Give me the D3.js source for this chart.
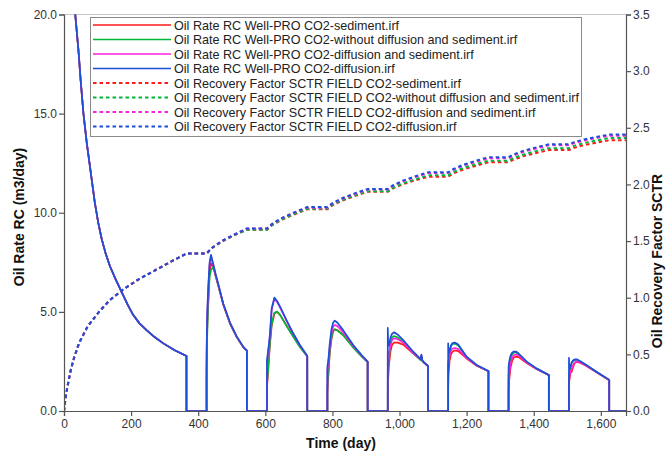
<!DOCTYPE html>
<html>
<head>
<meta charset="utf-8">
<script src="https://cdn.jsdelivr.net/npm/d3@7"></script>
<style>
  html, body { margin: 0; padding: 0; background: #fff; }
  svg { display: block; font-family: "Liberation Sans", Arial, sans-serif; }
</style>
</head>
<body>
<svg id="chart" width="670" height="457"></svg>
<script>
// ---- Oil rate (m3/day), sampled by day ----
const rateDays = [
  0, 5, 10, 15, 20, 26, 33, 43, 50, 58, 68, 76, 84, 92, 102, 112, 124, 137, 155, 172, 190, 206, 225, 246, 270, 296, 330, 365,
  365, 425,
  425, 427, 430, 434, 438, 445, 452, 460, 475, 495, 515, 535, 545,
  545, 605,
  605, 608, 611, 614, 619, 627, 635, 644, 663, 683, 703, 725,
  725, 785,
  785, 788, 792, 797, 802, 807, 815, 832, 862, 887, 905,
  905, 965,
  965, 966, 969, 973, 978, 984, 995, 1011, 1041, 1063, 1065, 1068, 1071, 1085,
  1085, 1145,
  1145, 1146, 1149, 1153, 1158, 1165, 1175, 1200, 1230, 1265,
  1265, 1325,
  1325, 1327, 1331, 1336, 1341, 1347, 1355, 1379, 1408, 1445,
  1445, 1505,
  1505, 1506, 1509, 1513, 1517, 1522, 1528, 1540, 1557, 1587, 1625,
  1625, 1675
];

const rateFirstCycle = [
  60, 42, 33, 28, 25, 22.5, 20.1, 18.2, 16.6, 15.0, 13.5, 12.5, 11.5, 10.5, 9.5, 8.7, 7.95, 7.3, 6.6, 6.0, 5.35, 4.85, 4.42, 4.08, 3.73, 3.41, 3.06, 2.77
];

const rateSediment = rateFirstCycle.concat([
  0, 0,
  2.0, 4.2, 5.6, 7.0, 7.45, 7.25, 6.8, 6.3, 5.35, 4.4, 3.72, 3.2, 3.04,
  0, 0,
  1.2, 1.9, 2.7, 3.4, 4.3, 4.9, 5.0, 4.85, 4.32, 3.77, 3.25, 2.76,
  0, 0,
  0.9, 1.8, 2.9, 3.6, 4.0, 4.12, 4.08, 3.85, 3.22, 2.77, 2.47,
  0, 0,
  1.0, 1.6, 2.4, 3.0, 3.35, 3.45, 3.45, 3.35, 2.9, 2.58, 2.78, 2.53, 2.47, 2.26,
  0, 0,
  1.2, 1.8, 2.5, 2.85, 3.0, 3.05, 3.02, 2.65, 2.28, 2.0,
  0, 0,
  1.0, 1.6, 2.2, 2.55, 2.7, 2.74, 2.72, 2.42, 2.12, 1.8,
  0, 0,
  1.0, 1.5, 1.9, 1.98, 2.2, 2.42, 2.48, 2.42, 2.27, 1.95, 1.55,
  0, 0
]);

const rateNoDiffNoSed = rateFirstCycle.concat([
  0, 0,
  1.8, 4.0, 5.4, 6.8, 7.1, 7.28, 6.85, 6.32, 5.36, 4.41, 3.73, 3.2, 3.04,
  0, 0,
  1.4, 2.0, 2.8, 3.5, 4.4, 4.95, 5.02, 4.85, 4.3, 3.75, 3.23, 2.75,
  0, 0,
  1.2, 2.0, 3.0, 3.7, 4.05, 4.12, 4.05, 3.82, 3.2, 2.75, 2.46,
  0, 0,
  2.0, 2.2, 2.7, 3.4, 3.72, 3.78, 3.7, 3.5, 2.92, 2.57, 2.75, 2.52, 2.46, 2.25,
  0, 0,
  2.2, 2.4, 2.9, 3.25, 3.38, 3.4, 3.3, 2.72, 2.3, 2.01,
  0, 0,
  1.8, 2.2, 2.65, 2.88, 2.95, 2.95, 2.87, 2.47, 2.14, 1.81,
  0, 0,
  1.7, 1.9, 2.1, 2.4, 2.52, 2.57, 2.58, 2.48, 2.3, 1.97, 1.56,
  0, 0
]);

const rateDiffSed = rateFirstCycle.concat([
  0, 0,
  2.8, 4.8, 6.1, 7.4, 7.8, 7.35, 6.85, 6.35, 5.38, 4.43, 3.74, 3.21, 3.05,
  0, 0,
  2.4, 2.9, 3.3, 3.85, 5.1, 5.65, 5.5, 5.22, 4.56, 3.9, 3.32, 2.78,
  0, 0,
  2.0, 2.4, 3.2, 3.9, 4.25, 4.34, 4.28, 3.98, 3.28, 2.8, 2.48,
  0, 0,
  3.0, 2.9, 2.9, 3.3, 3.6, 3.67, 3.62, 3.45, 2.93, 2.6, 2.8, 2.55, 2.48, 2.26,
  0, 0,
  2.5, 2.5, 2.8, 3.05, 3.15, 3.17, 3.12, 2.68, 2.29, 2.0,
  0, 0,
  1.5, 1.9, 2.4, 2.7, 2.82, 2.85, 2.8, 2.45, 2.13, 1.81,
  0, 0,
  1.5, 1.7, 2.0, 2.1, 2.3, 2.45, 2.5, 2.44, 2.28, 1.96, 1.56,
  0, 0
]);

const rateDiffusion = rateFirstCycle.concat([
  0, 0,
  3.0, 5.0, 6.3, 7.5, 7.88, 7.4, 6.9, 6.4, 5.4, 4.45, 3.75, 3.22, 3.05,
  0, 0,
  2.57, 3.0, 3.4, 3.93, 5.18, 5.72, 5.55, 5.26, 4.59, 3.92, 3.33, 2.78,
  0, 0,
  2.23, 2.6, 3.4, 4.1, 4.45, 4.56, 4.45, 4.08, 3.33, 2.82, 2.49,
  0, 0,
  4.19, 3.6, 3.3, 3.7, 3.9, 3.97, 3.85, 3.58, 2.99, 2.62, 2.85, 2.55, 2.49, 2.27,
  0, 0,
  3.41, 2.9, 3.0, 3.3, 3.42, 3.45, 3.35, 2.74, 2.32, 2.02,
  0, 0,
  2.2, 2.5, 2.8, 2.95, 3.0, 3.0, 2.9, 2.49, 2.15, 1.82,
  0, 0,
  2.68, 2.1, 2.2, 2.45, 2.55, 2.6, 2.61, 2.5, 2.32, 1.98, 1.57,
  0, 0
]);

// ---- Field oil recovery factor, sampled by day ----
const rfDays = [
  0, 5, 10, 20, 30, 45, 70, 100, 135, 175, 220, 270, 320, 365,
  425, 440, 470, 510, 545,
  605, 620, 650, 690, 725,
  785, 800, 830, 870, 905,
  965, 980, 1010, 1050, 1085,
  1145, 1160, 1190, 1230, 1265,
  1325, 1340, 1370, 1410, 1445,
  1505, 1520, 1550, 1590, 1625,
  1675
];
const rfFirstCycle = [0, 0.12, 0.21, 0.36, 0.47, 0.6, 0.745, 0.86, 0.975, 1.07, 1.158, 1.24, 1.32, 1.39];

const rfSediment = rfFirstCycle.concat([
  1.39, 1.436, 1.495, 1.554, 1.60,
  1.60, 1.64, 1.69, 1.74, 1.78,
  1.78, 1.814, 1.858, 1.901, 1.935,
  1.935, 1.964, 2.002, 2.039, 2.068,
  2.068, 2.096, 2.132, 2.167, 2.195,
  2.195, 2.219, 2.25, 2.28, 2.304,
  2.304, 2.323, 2.347, 2.371, 2.39,
  2.39
]);
const rfNoDiffNoSed = rfFirstCycle.concat([
  1.39, 1.436, 1.495, 1.554, 1.60,
  1.60, 1.641, 1.693, 1.744, 1.785,
  1.785, 1.819, 1.863, 1.906, 1.94,
  1.94, 1.971, 2.01, 2.049, 2.08,
  2.08, 2.109, 2.145, 2.181, 2.21,
  2.21, 2.234, 2.265, 2.296, 2.32,
  2.32, 2.34, 2.365, 2.39, 2.41,
  2.41
]);
const rfDiffSed = rfFirstCycle.concat([
  1.39, 1.438, 1.50, 1.562, 1.61,
  1.61, 1.651, 1.703, 1.754, 1.795,
  1.795, 1.83, 1.875, 1.92, 1.955,
  1.955, 1.987, 2.028, 2.068, 2.10,
  2.10, 2.129, 2.165, 2.201, 2.23,
  2.23, 2.255, 2.288, 2.32, 2.345,
  2.345, 2.364, 2.388, 2.411, 2.43,
  2.43
]);
const rfDiffusion = rfFirstCycle.concat([
  1.39, 1.438, 1.50, 1.562, 1.61,
  1.61, 1.652, 1.705, 1.758, 1.80,
  1.80, 1.835, 1.88, 1.925, 1.96,
  1.96, 1.992, 2.034, 2.075, 2.107,
  2.107, 2.136, 2.174, 2.211, 2.24,
  2.24, 2.265, 2.297, 2.329, 2.354,
  2.354, 2.373, 2.397, 2.421, 2.44,
  2.44
]);

const rateTicks = [0, 5, 10, 15, 20];
const rfTicks = [0, 0.5, 1.0, 1.5, 2.0, 2.5, 3.0, 3.5];
const dayTicks = [0, 200, 400, 600, 800, 1000, 1200, 1400, 1600];

const seriesNames = [
  "Oil Rate RC Well-PRO CO2-sediment.irf",
  "Oil Rate RC Well-PRO CO2-without diffusion and sediment.irf",
  "Oil Rate RC Well-PRO CO2-diffusion and sediment.irf",
  "Oil Rate RC Well-PRO CO2-diffusion.irf",
  "Oil Recovery Factor SCTR FIELD CO2-sediment.irf",
  "Oil Recovery Factor SCTR FIELD CO2-without diffusion and sediment.irf",
  "Oil Recovery Factor SCTR FIELD CO2-diffusion and sediment.irf",
  "Oil Recovery Factor SCTR FIELD CO2-diffusion.irf"
];
const caseColors = ["#ff1a1a", "#00b838", "#ff22dd", "#1c4fd8"];

// ---- Layout ----
const svg = d3.select("#chart");
const plot = { left: 64, right: 626, top: 14.5, bottom: 411 };

const x = d3.scaleLinear().domain([0, 1675]).range([plot.left, plot.right]);
const yRate = d3.scaleLinear().domain([0, 20]).range([plot.bottom, plot.top]);
const yRf = d3.scaleLinear().domain([0, 3.5]).range([plot.bottom, plot.top]);

svg.append("defs").append("clipPath").attr("id", "plotClip")
  .append("rect")
  .attr("x", plot.left).attr("y", plot.top)
  .attr("width", plot.right - plot.left).attr("height", plot.bottom - plot.top);

// frame top edge
svg.append("line")
  .attr("x1", plot.left).attr("x2", plot.right)
  .attr("y1", plot.top).attr("y2", plot.top)
  .attr("stroke", "#c8c8c8").attr("stroke-width", 1);

const lines = svg.append("g").attr("clip-path", "url(#plotClip)");

const rateSeries = [rateSediment, rateNoDiffNoSed, rateDiffSed, rateDiffusion];
const rfSeries = [rfSediment, rfNoDiffNoSed, rfDiffSed, rfDiffusion];

const rateLine = d3.line().x(d => x(d[0])).y(d => yRate(d[1]));
const rfLine = d3.line().x(d => x(d[0])).y(d => yRf(d[1]));

rfSeries.forEach((vals, i) => {
  lines.append("path")
    .datum(rfDays.map((t, k) => [t, vals[k]]))
    .attr("d", rfLine)
    .attr("fill", "none")
    .attr("stroke", caseColors[i])
    .attr("stroke-width", 2)
    .attr("stroke-dasharray", "3.5,3");
});

rateSeries.forEach((vals, i) => {
  lines.append("path")
    .datum(rateDays.map((t, k) => [t, vals[k]]))
    .attr("d", rateLine)
    .attr("fill", "none")
    .attr("stroke", caseColors[i])
    .attr("stroke-width", 1.7)
    .attr("stroke-linejoin", "round");
});

// ---- Axes ----
const axisColor = "#555";
function styleAxis(g) {
  g.selectAll(".domain").attr("stroke", axisColor).attr("stroke-width", 1.2);
  g.selectAll(".tick line").attr("stroke", axisColor).attr("stroke-width", 1.2);
  g.selectAll(".tick text").attr("fill", "#333").attr("font-size", 12)
    .attr("font-family", "Liberation Sans, Arial, sans-serif");
}

svg.append("g")
  .attr("transform", `translate(0,${plot.bottom})`)
  .call(d3.axisBottom(x).tickValues(dayTicks).tickFormat(d3.format(",")).tickSizeOuter(0).tickSize(5).tickPadding(3))
  .call(styleAxis);

svg.append("g")
  .attr("transform", `translate(${plot.left},0)`)
  .call(d3.axisLeft(yRate).tickValues(rateTicks).tickFormat(d3.format(".1f")).tickSizeOuter(0).tickSize(5).tickPadding(2))
  .call(styleAxis);

svg.append("g")
  .attr("transform", `translate(${plot.right},0)`)
  .call(d3.axisRight(yRf).tickValues(rfTicks).tickFormat(d3.format(".1f")).tickSizeOuter(0).tickSize(5).tickPadding(2))
  .call(styleAxis);

// ---- Axis titles ----
svg.append("text")
  .attr("x", 341).attr("y", 448)
  .attr("text-anchor", "middle").attr("font-size", 14).attr("font-weight", "bold")
  .attr("fill", "#111").text("Time (day)");

svg.append("text")
  .attr("transform", `translate(24,217) rotate(-90)`)
  .attr("text-anchor", "middle").attr("font-size", 14).attr("font-weight", "bold")
  .attr("fill", "#111").text("Oil Rate RC (m3/day)");

svg.append("text")
  .attr("transform", `translate(662,261) rotate(-90)`)
  .attr("text-anchor", "middle").attr("font-size", 14).attr("font-weight", "bold")
  .attr("fill", "#111").text("Oil Recovery Factor SCTR");

// ---- Legend ----
const legend = svg.append("g");
legend.append("rect")
  .attr("x", 90.5).attr("y", 17.5).attr("width", 491).attr("height", 119)
  .attr("fill", "#fff").attr("stroke", "#8a8a8a").attr("stroke-width", 1);

seriesNames.forEach((name, i) => {
  const yy = 25 + i * 14.5;
  const dashed = i >= 4;
  legend.append("line")
    .attr("x1", 93).attr("x2", 171).attr("y1", yy).attr("y2", yy)
    .attr("stroke", caseColors[i % 4])
    .attr("stroke-width", dashed ? 2 : 1.7)
    .attr("stroke-dasharray", dashed ? "3.5,3" : null);
  legend.append("text")
    .attr("x", 174).attr("y", yy + 4.5)
    .attr("font-size", 12.6).attr("fill", "#222")
    .text(name);
});
</script>
</body>
</html>
